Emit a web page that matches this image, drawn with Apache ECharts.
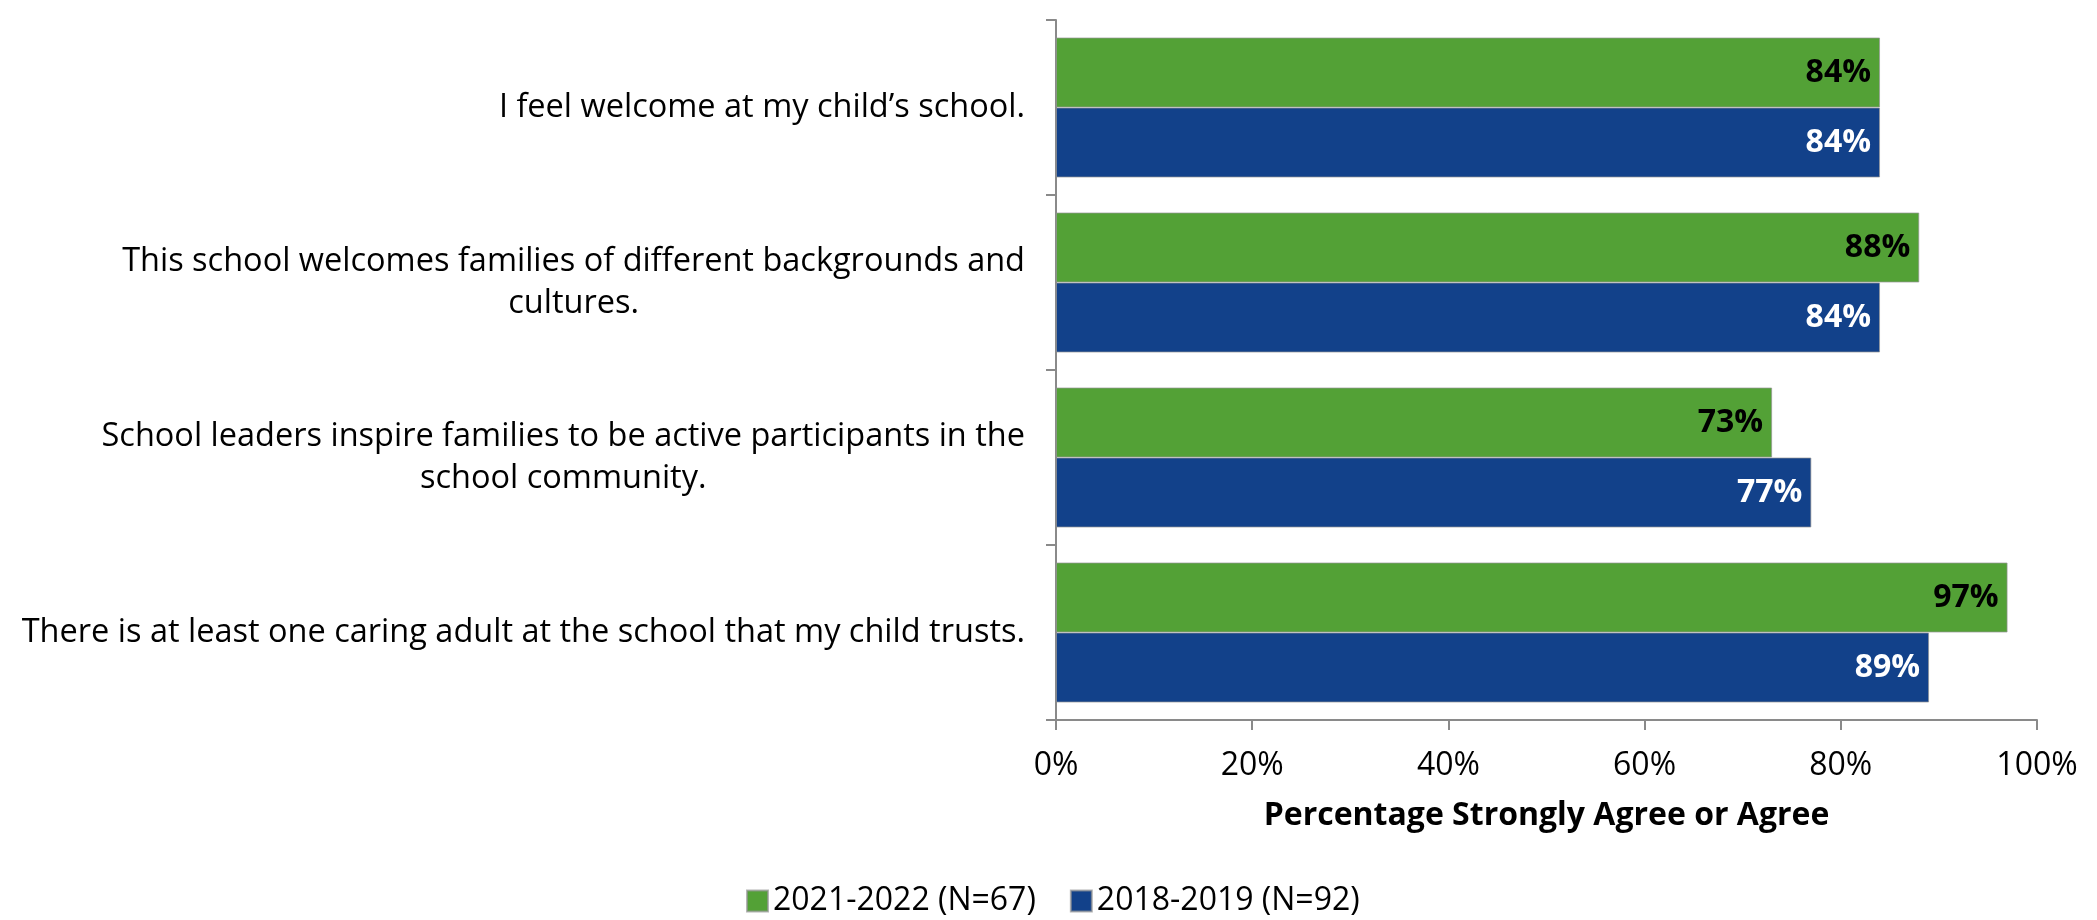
<!DOCTYPE html>
<html>
<head>
<meta charset="utf-8">
<script src="https://cdn.jsdelivr.net/npm/echarts@6/dist/echarts.min.js"></script>
<style>
html,body{margin:0;padding:0;background:#fff;}
#chart{width:2097px;height:920px;}
</style>
</head>
<body>
<div id="chart"></div>
<script>
const categories = [
  "I feel welcome at my child\u2019s school.",
  "This school welcomes families of different backgrounds and\ncultures.",
  "School leaders inspire families to be active participants in the\nschool community.",
  "There is at least one caring adult at the school that my child trusts."
];
const seriesNames = ["2021-2022 (N=67)", "2018-2019 (N=92)"];
const values2122 = [84, 88, 73, 97];
const values1819 = [84, 84, 77, 89];
const xTicks = [0, 20, 40, 60, 80, 100];

const FONT = '"Open Sans", "Noto Sans", "DejaVu Sans", sans-serif';
const GREEN = '#53a136';
const BLUE = '#12418a';
const AXIS = '#8a8a8a';

const chart = echarts.init(document.getElementById('chart'), null, {renderer: 'canvas'});

function barLabel(color) {
  return {
    show: true,
    position: 'insideRight',
    distance: 9,
    color: color,
    fontFamily: FONT,
    fontWeight: 'bold',
    fontSize: 32,
    formatter: p => p.value + '%'
  };
}

chart.setOption({
  animation: false,
  backgroundColor: '#fff',
  textStyle: {fontFamily: FONT},
  grid: {left: 1056, right: 60, top: 20, bottom: 200},
  legend: {
    data: seriesNames,
    left: 741,
    top: 880,
    itemWidth: 21,
    itemHeight: 21,
    itemGap: 34,
    icon: 'rect',
    textStyle: {fontFamily: FONT, fontSize: 32, color: '#000'}
  },
  xAxis: {
    type: 'value',
    min: xTicks[0],
    max: xTicks[xTicks.length - 1],
    interval: 20,
    axisLine: {show: true, lineStyle: {color: AXIS, width: 2}},
    axisTick: {show: true, length: 10, lineStyle: {color: AXIS, width: 2}},
    splitLine: {show: false},
    axisLabel: {
      fontFamily: FONT, fontSize: 32, color: '#000', margin: 30,
      formatter: v => v + '%'
    },
    name: 'Percentage Strongly Agree or Agree',
    nameLocation: 'middle',
    nameGap: 80,
    nameTextStyle: {fontFamily: FONT, fontSize: 32, fontWeight: 'bold', color: '#000'}
  },
  yAxis: {
    type: 'category',
    inverse: true,
    data: categories,
    axisLine: {show: true, lineStyle: {color: AXIS, width: 2}},
    axisTick: {show: true, length: 10, lineStyle: {color: AXIS, width: 2}},
    axisLabel: {
      margin: 31,
      fontFamily: FONT,
      fontSize: 32.5,
      lineHeight: 42,
      color: '#000',
      formatter: v => v.split('\n').map(l => '{c|' + l + '}').join('\n'),
      rich: {
        c: {align: 'center', fontFamily: FONT, fontSize: 32.5, lineHeight: 42, color: '#000'}
      }
    }
  },
  series: [
    {
      name: seriesNames[0],
      type: 'bar',
      data: values2122,
      barGap: '0%',
      barCategoryGap: '20%',
      itemStyle: {color: GREEN, borderColor: 'rgba(150,150,150,0.7)', borderWidth: 1},
      label: barLabel('#000')
    },
    {
      name: seriesNames[1],
      type: 'bar',
      data: values1819,
      barGap: '0%',
      barCategoryGap: '20%',
      itemStyle: {color: BLUE, borderColor: 'rgba(150,150,150,0.7)', borderWidth: 1},
      label: barLabel('#fff')
    }
  ]
});
</script>
</body>
</html>
